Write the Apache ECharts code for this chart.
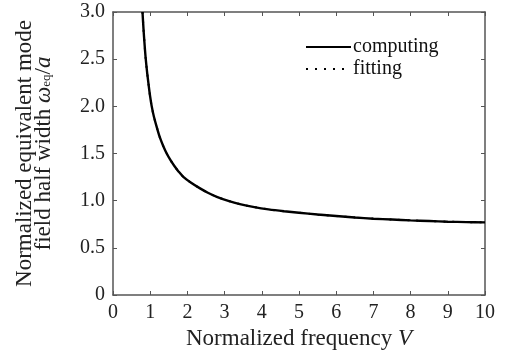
<!DOCTYPE html>
<html>
<head>
<meta charset="utf-8">
<script src="https://cdn.jsdelivr.net/npm/echarts@6/dist/echarts.min.js"></script>
<style>html,body{margin:0;padding:0;background:#fff}#c{width:507px;height:351px}</style>
</head>
<body>
<div id="c"></div>
<script>
const vValues = [0.793, 0.82, 0.85, 0.879, 0.92, 0.96, 1.0, 1.04, 1.1, 1.18, 1.26, 1.35, 1.444, 1.55, 1.65, 1.76, 1.89, 2.1, 2.34, 2.55, 2.79, 3.1, 3.41, 3.8, 4.18, 4.6, 5, 5.5, 6, 6.5, 7, 7.5, 8, 8.5, 9, 9.5, 10];
const computingValues = [3.0, 2.82, 2.65, 2.507, 2.35, 2.22, 2.10, 2.002, 1.89, 1.775, 1.67, 1.58, 1.50, 1.426, 1.367, 1.31, 1.253, 1.19, 1.13, 1.084, 1.041, 0.998, 0.964, 0.932, 0.908, 0.888, 0.872, 0.853, 0.837, 0.822, 0.809, 0.800, 0.791, 0.784, 0.777, 0.773, 0.770];
const fittingValues = [3.0, 2.82, 2.65, 2.507, 2.35, 2.22, 2.10, 2.002, 1.89, 1.775, 1.67, 1.58, 1.50, 1.426, 1.367, 1.31, 1.253, 1.19, 1.13, 1.084, 1.041, 0.998, 0.964, 0.932, 0.908, 0.888, 0.872, 0.853, 0.837, 0.822, 0.809, 0.800, 0.791, 0.784, 0.777, 0.773, 0.770];
const xTicks = [0, 1, 2, 3, 4, 5, 6, 7, 8, 9, 10];
const yTicks = ['0', '0.5', '1.0', '1.5', '2.0', '2.5', '3.0'];

const FONT = '"Liberation Serif", "Times New Roman", serif';
const axisColor = '#555';
const chart = echarts.init(document.getElementById('c'));
const pair = (vs, ys) => vs.map((v, i) => [v, ys[i]]);

const common = {
  axisLine: { show: true, onZero: false, lineStyle: { color: axisColor, width: 1.5 } },
  axisTick: { show: true, inside: true, length: 4, lineStyle: { color: axisColor, width: 1 } },
  splitLine: { show: false }
};

chart.setOption({
  animation: false,
  backgroundColor: '#fff',
  grid: { left: 113, right: 22, top: 12, bottom: 56, containLabel: false, outerBoundsMode: 'none' },
  legend: {
    orient: 'vertical', left: 300, top: 32, itemGap: 2,
    itemWidth: 45, itemHeight: 10,
    data: ['computing', 'fitting'],
    itemStyle: { opacity: 0 },
    textStyle: { fontFamily: FONT, fontSize: 20, color: '#111', padding: [0, 0, 0, -3] }
  },
  xAxis: [
    Object.assign({
      type: 'value', min: 0, max: 10, interval: 1, position: 'bottom',
      name: 'Normalized frequency {i|V}', nameLocation: 'middle', nameGap: 32,
      nameTextStyle: { fontFamily: FONT, fontSize: 23, color: '#222',
        rich: { i: { fontFamily: FONT, fontStyle: 'italic', fontSize: 23, color: '#222' } } },
      axisLabel: { fontFamily: FONT, fontSize: 20, color: '#222', margin: 8,
        formatter: v => String(xTicks[Math.round(v)]) }
    }, common),
    Object.assign({
      type: 'value', min: 0, max: 10, interval: 1, position: 'top',
      axisLabel: { show: false }
    }, common)
  ],
  yAxis: [
    Object.assign({
      type: 'value', min: 0, max: 3, interval: 0.5, position: 'left',
      name: 'Normalized equivalent mode\nfield half width {i|ω}{sub|eq}{n|/}{i|a}',
      nameLocation: 'middle', nameGap: 60, nameRotate: 90,
      nameTextStyle: { fontFamily: FONT, fontSize: 23, color: '#222', lineHeight: 19,
        rich: {
          i: { fontFamily: FONT, fontStyle: 'italic', fontSize: 23, color: '#222', lineHeight: 19 },
          n: { fontFamily: FONT, fontSize: 23, color: '#222', lineHeight: 19 },
          sub: { fontFamily: FONT, fontSize: 13, color: '#222', lineHeight: 12, verticalAlign: 'bottom' }
        } },
      axisLabel: { fontFamily: FONT, fontSize: 20, color: '#222', margin: 8,
        formatter: v => yTicks[Math.round(v * 2)] }
    }, common),
    Object.assign({
      type: 'value', min: 0, max: 3, interval: 0.5, position: 'right',
      axisLabel: { show: false }
    }, common)
  ],
  series: [
    {
      name: 'fitting', type: 'line', data: pair(vValues, fittingValues),
      symbol: 'none', smooth: 0.3, clip: true,
      lineStyle: { color: '#000', width: 2, type: [2, 7] }, itemStyle: { color: '#000' }
    },
    {
      name: 'computing', type: 'line', data: pair(vValues, computingValues),
      symbol: 'none', smooth: 0.3, clip: true,
      lineStyle: { color: '#000', width: 2.4 }, itemStyle: { color: '#000' }
    }
  ]
});
</script>
</body>
</html>
